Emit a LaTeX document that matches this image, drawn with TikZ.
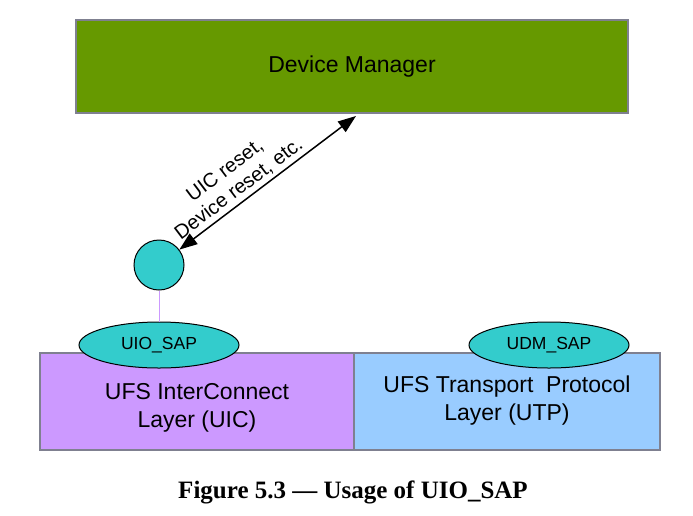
\documentclass[tikz,border=0pt]{standalone}
\usepackage{fontspec}
\setmainfont{Liberation Sans}
\newfontfamily\capfont{Liberation Serif}
\usetikzlibrary{arrows.meta, shapes.geometric}

\definecolor{dmgreen}{HTML}{669900}
\definecolor{sapcyan}{HTML}{33CCCC}
\definecolor{uicpurple}{HTML}{CC99FF}
\definecolor{utpblue}{HTML}{99CCFF}
\definecolor{edgegray}{HTML}{7F8090}

\tikzset{
  layer/.style={draw=edgegray, line width=1.2pt, minimum height=97pt},
  layertext/.style={align=center, font=\fontsize{23}{28}\selectfont},
  sap/.style={ellipse, draw, line width=1pt, fill=sapcyan, minimum width=160pt,
    minimum height=46pt, inner sep=0pt, font=\fontsize{17.5}{20}\selectfont},
}

\begin{document}
\begin{tikzpicture}[x=1pt, y=-1pt]
  \useasboundingbox (0,0) rectangle (693,515);
  % Usage of UIO_SAP
    \node[draw=edgegray, line width=1.2pt, fill=dmgreen, minimum width=552pt, minimum height=93pt,
      font=\fontsize{23}{27}\selectfont] (dm) at (352,66.5) {Device Manager};

    \node[layer, fill=uicpurple, minimum width=314pt] (uic) at (197,401.5) {};
    \node[layer, fill=utpblue, minimum width=306pt] (utp) at (507,401.5) {};
    \node[layertext] (uictext) at ([yshift=-6pt]uic.center) {UFS InterConnect\\Layer (UIC)};
    \node[layertext] (utptext) at ([yshift=1pt]utp.center) {UFS Transport\ \ Protocol\\Layer (UTP)};

    \node[sap] (uio) at (159,345) {UIO\_SAP};
    \node[sap] (udm) at (549,345) {UDM\_SAP};

    \node[circle, draw, line width=1pt, fill=sapcyan, minimum size=50pt] (port) at (159,265) {};
    \draw[color=uicpurple, line width=1pt] (port) -- (uio);

    \coordinate (dmtip) at (356,116);
    \draw[line width=1.5pt, {Triangle[length=18pt,width=13pt]}-{Triangle[length=18pt,width=13pt]}]
      (port) -- node[sloped, above, pos=0.38, align=center, font=\fontsize{20}{23}\selectfont]
      {UIC reset,\\Device reset, etc.} (dmtip);

    \node[font=\capfont\bfseries\fontsize{25}{29}\selectfont] (cap) at (353,492) {Figure 5.3 — Usage of UIO\_SAP};
  \end{tikzpicture}
\end{document}
